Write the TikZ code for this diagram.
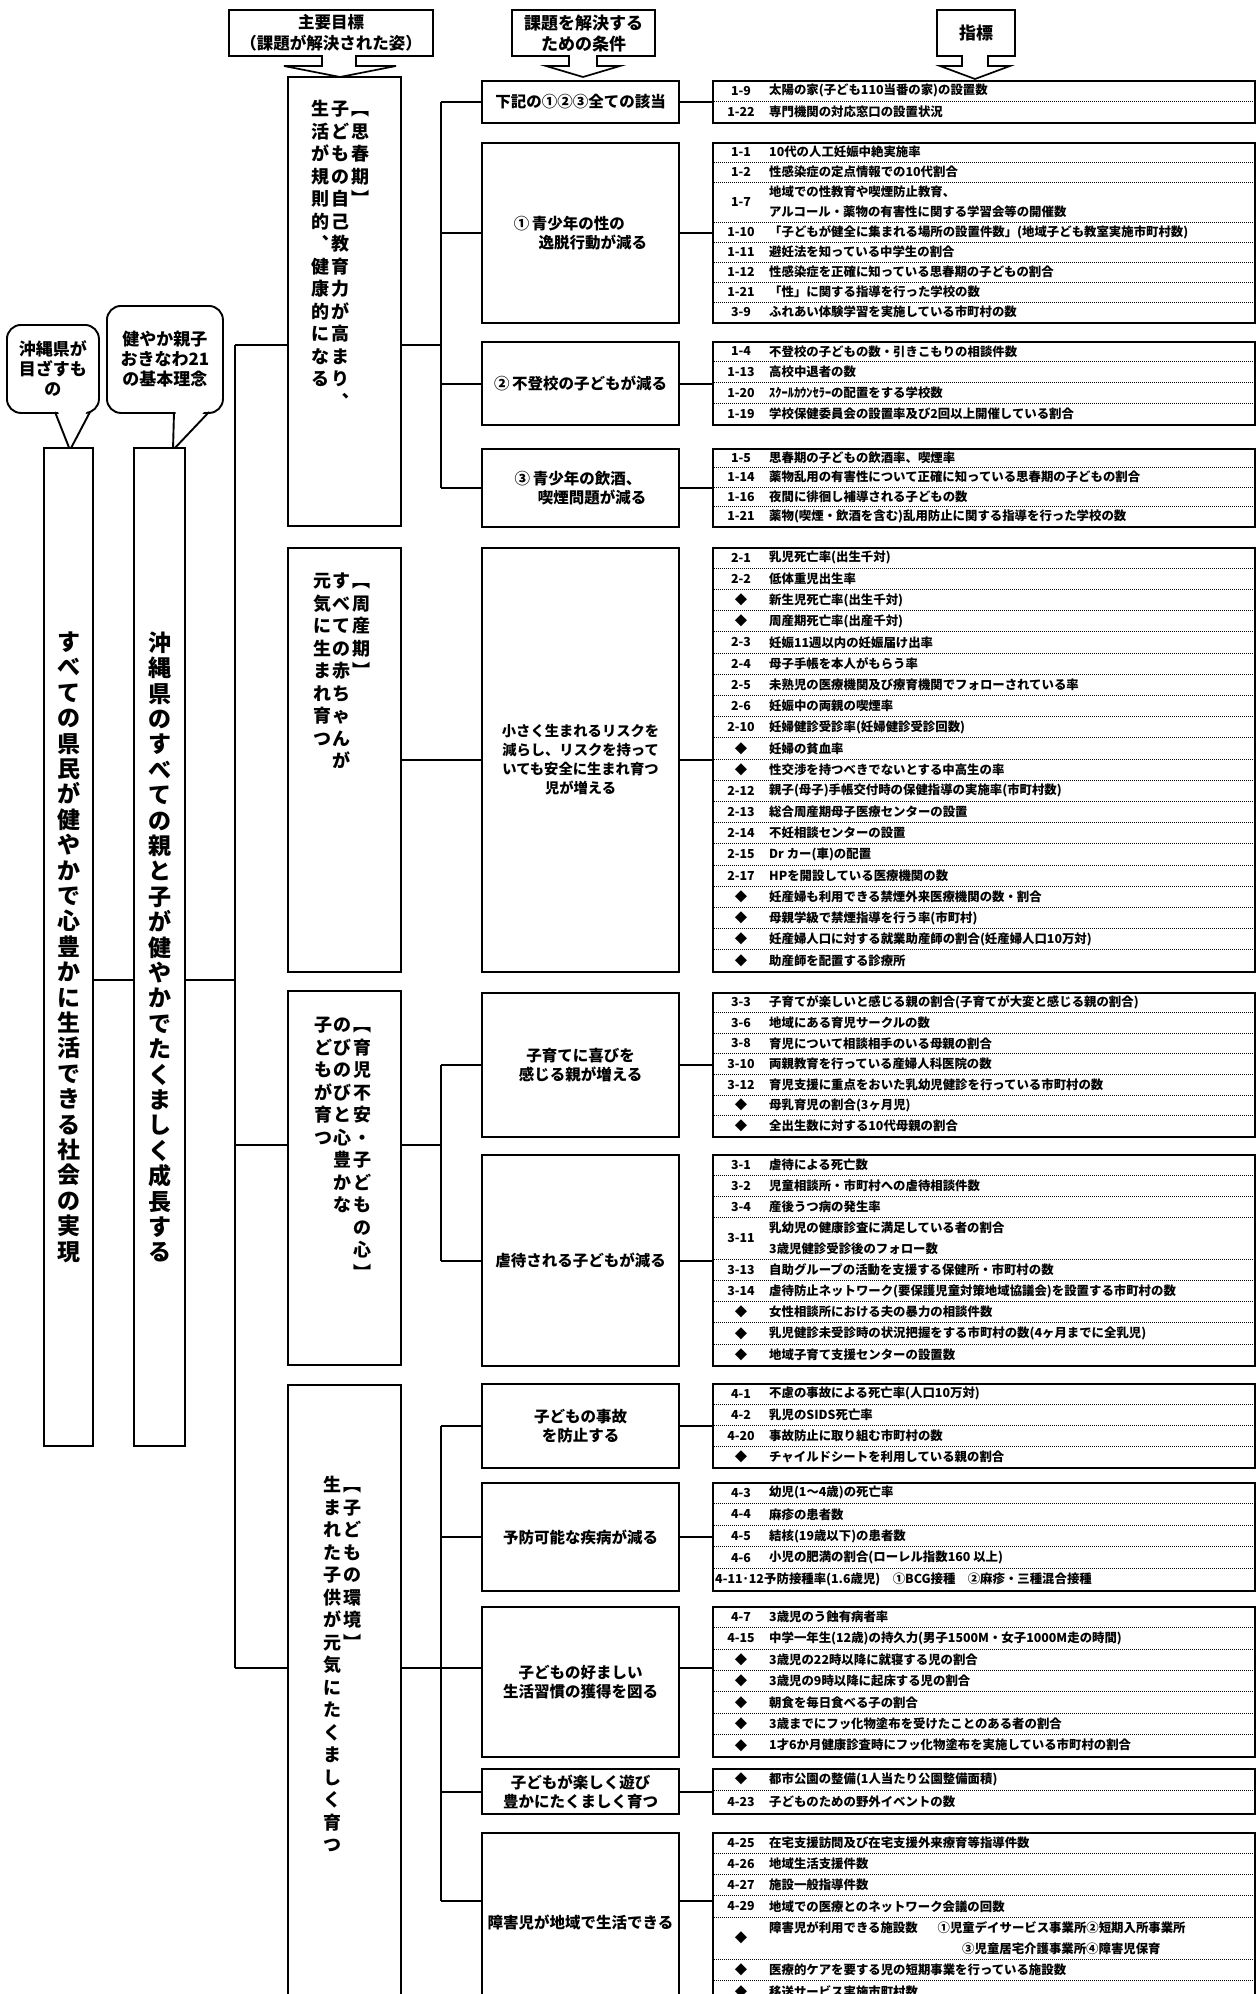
\documentclass[tikz,border=0pt]{standalone}
\usepackage{fontspec}
\setmainfont{Noto Sans CJK JP}
\newcommand\ibox[4]{%
  \pgfmathsetmacro\itop{#2}%
  \pgfmathsetmacro\ipitch{(#3-#2)/#4}%
  \pgfmathsetmacro\ihgt{#3-#2}%
  \node[ibx, minimum height=\ihgt pt] (#1) at (712,#2) {};}
\newcommand\rowpos[1]{\pgfmathsetmacro\rowy{\itop+(#1)*\ipitch}}
\newcommand\irow[4]{\rowpos{#2}\node[ilab] (#1l) at (741,\rowy) {#3};\node[itxt] (#1t) at (769,\rowy) {#4};}
\newcommand\ilb[3]{\rowpos{#2}\node[ilab] (#1) at (741,\rowy) {#3};}
\newcommand\itx[3]{\rowpos{#2}\node[itxt] (#1) at (769,\rowy) {#3};}
\newcommand\iseps[1]{\foreach \k in {#1}{\rowpos{\k}\draw[isep] (712,\rowy) -- (1254,\rowy);}}
\begin{document}
\begin{tikzpicture}[x=1pt,y=-1pt,
 bx/.style={draw, line width=2.1pt, fill=white, inner sep=0pt},
 mainbx/.style={bx, anchor=north west, minimum width=113pt},
 condbx/.style={bx, anchor=north west, minimum width=197pt, align=center, font=\fontsize{15.5}{19}\selectfont\bfseries},
 ibx/.style={bx, anchor=north west, minimum width=542pt},
 ilab/.style={inner sep=0pt, font=\fontsize{12.4}{14}\selectfont\bfseries},
 itxt/.style={inner sep=0pt, anchor=west, font=\fontsize{12.4}{14}\selectfont\bfseries},
 isep/.style={line width=0.7pt, dash pattern=on 0.9pt off 1.1pt},
 wire/.style={line width=1.9pt},
 vtx/.style={inner sep=0pt, anchor=north, align=center, font=\fontsize{18}{22.5}\selectfont\bfseries},
 bigv/.style={align=center, font=\fontsize{23}{25.4}\selectfont\bfseries},
 hdr/.style={bx, anchor=north west, minimum height=46pt, align=center, font=\fontsize{16.5}{21}\selectfont\bfseries},
 bubble/.style={draw, line width=1.9pt, rounded corners=14pt, fill=white, anchor=north west, align=center, inner sep=0pt, font=\fontsize{17}{20}\selectfont\bfseries},
 arr/.style={line width=1.7pt, fill=white}
]
\useasboundingbox (0,0) rectangle (1257,1994);
\clip (0,0) rectangle (1257,1994);
\fill[white] (0,0) rectangle (1257,1994);

% headers
\node[hdr, minimum width=204pt] (hA) at (228,9) {主要目標\\（課題が解決された姿）};
\node[hdr, minimum width=143pt, font=\fontsize{17}{21}\selectfont\bfseries] (hB) at (511,9) {課題を解決する\\ための条件};
\node[hdr, minimum width=78pt, font=\fontsize{17}{21}\selectfont\bfseries] (hC) at (936,9) {指標};
\filldraw[arr] (322,55) -- (322,66) -- (284,66) -- (340,77) -- (396,66) -- (356,66) -- (356,55);
\fill[white] (323.5,52.5) rectangle (354.5,57);
\filldraw[arr] (569,55) -- (569,66) -- (546,66) -- (583,77) -- (620,66) -- (597,66) -- (597,55);
\fill[white] (570.5,52.5) rectangle (595.5,57);
\filldraw[arr] (962,55) -- (962,66) -- (940,66) -- (975,79) -- (1010,66) -- (988,66) -- (988,55);
\fill[white] (963.5,52.5) rectangle (986.5,57);

% callouts
\node[bubble, minimum width=92pt, minimum height=88pt] (cb1) at (6,324) {沖縄県が\\目ざすも\\の};
\node[bubble, minimum width=116pt, minimum height=107pt] (cb2) at (106,305) {健やか親子\\おきなわ21\\の基本理念};
\fill[white] (57,408.5) -- (70,447) -- (88,408.5) -- cycle;
\draw[line width=1.9pt] (55,412) -- (70,450) -- (90,412);
\fill[white] (176,408.5) -- (173,447) -- (207,408.5) -- cycle;
\draw[line width=1.9pt] (174,412) -- (173,450) -- (209,412);

% left columns
\node[bx, bigv, minimum width=49pt, minimum height=998pt] (L1) at (68.5,947) {す\\べ\\て\\の\\県\\民\\が\\健\\や\\か\\で\\心\\豊\\か\\に\\生\\活\\で\\き\\る\\社\\会\\の\\実\\現};
\node[bx, bigv, minimum width=51pt, minimum height=998pt] (L2) at (159.5,947) {沖\\縄\\県\\の\\す\\べ\\て\\の\\親\\と\\子\\が\\健\\や\\か\\で\\た\\く\\ま\\し\\く\\成\\長\\す\\る};

% main goal boxes
\node[mainbx, minimum height=449pt] (M1) at (287,76) {};
\node[mainbx, minimum height=424pt] (M2) at (287,547) {};
\node[mainbx, minimum height=374pt] (M3) at (287,990) {};
\node[mainbx, minimum height=626pt] (M4) at (287,1384) {};
\node[vtx] (M1a) at (360,100) {\strut ︻\\思\\春\\期\\︼};
\node[vtx] (M1b) at (340,100) {\strut 子\\ど\\も\\の\\自\\己\\教\\育\\力\\が\\高\\ま\\り\\︑};
\node[vtx] (M1c) at (320,100) {\strut 生\\活\\が\\規\\則\\的\\︑\\健\\康\\的\\に\\な\\る};
\node[vtx] (M2a) at (361,572) {\strut ︻\\周\\産\\期\\︼};
\node[vtx] (M2b) at (341,572) {\strut す\\べ\\て\\の\\赤\\ち\\ゃ\\ん\\が};
\node[vtx] (M2c) at (322,572) {\strut 元\\気\\に\\生\\ま\\れ\\育\\つ};
\node[vtx] (M3a) at (362,1016) {\strut ︻\\育\\児\\不\\安\\・\\子\\ど\\も\\の\\心\\︼};
\node[vtx] (M3b) at (342,1016) {\strut の\\び\\の\\び\\と\\心\\豊\\か\\な};
\node[vtx] (M3c) at (323,1016) {\strut 子\\ど\\も\\が\\育\\つ};
\node[vtx] (M4a) at (352,1476) {\strut ︻\\子\\ど\\も\\の\\環\\境\\︼};
\node[vtx] (M4b) at (332,1476) {\strut 生\\ま\\れ\\た\\子\\供\\が\\元\\気\\に\\た\\く\\ま\\し\\く\\育\\つ};

% condition boxes
\node[condbx, minimum height=42pt] (c0) at (481,80) {下記の①②③全ての該当};
\node[condbx, minimum height=180pt, align=left] (c1) at (481,142) {①\,青少年の性の\\\hspace*{1.6em}逸脱行動が減る};
\node[condbx, minimum height=83pt] (c2) at (481,341) {②\,不登校の子どもが減る};
\node[condbx, minimum height=78pt, align=left] (c3) at (481,448) {③\,青少年の飲酒、\\\hspace*{1.5em}喫煙問題が減る};
\node[condbx, minimum height=424pt, font=\fontsize{14.3}{19}\selectfont\bfseries] (c4) at (481,547) {小さく生まれるリスクを\\減らし、リスクを持って\\いても安全に生まれ育つ\\児が増える};
\node[condbx, minimum height=144pt] (c5) at (481,992) {子育てに喜びを\\感じる親が増える};
\node[condbx, minimum height=211pt] (c6) at (481,1154) {虐待される子どもが減る};
\node[condbx, minimum height=84pt] (c7) at (481,1383) {子どもの事故\\を防止する};
\node[condbx, minimum height=108pt] (c8) at (481,1482) {予防可能な疾病が減る};
\node[condbx, minimum height=150pt] (c9) at (481,1606) {子どもの好ましい\\生活習慣の獲得を図る};
\node[condbx, minimum height=45pt] (c10) at (481,1768) {子どもが楽しく遊び\\豊かにたくましく育つ};
\node[condbx, minimum height=178pt] (c11) at (481,1832) {障害児が地域で生活できる};

% indicator boxes
\ibox{i0}{80}{122}{2}
\iseps{1}
\irow{r0a}{0.5}{1-9}{太陽の家(子ども110当番の家)の設置数}
\irow{r0b}{1.5}{1-22}{専門機関の対応窓口の設置状況}

\ibox{i1}{142}{322}{9}
\iseps{1,2,4,5,6,7,8}
\irow{r1a}{0.5}{1-1}{10代の人工妊娠中絶実施率}
\irow{r1b}{1.5}{1-2}{性感染症の定点情報での10代割合}
\ilb{r1cl}{3}{1-7}
\itx{r1ct}{2.5}{地域での性教育や喫煙防止教育、}
\itx{r1cu}{3.5}{アルコール・薬物の有害性に関する学習会等の開催数}
\irow{r1d}{4.5}{1-10}{「子どもが健全に集まれる場所の設置件数」(地域子ども教室実施市町村数)}
\irow{r1e}{5.5}{1-11}{避妊法を知っている中学生の割合}
\irow{r1f}{6.5}{1-12}{性感染症を正確に知っている思春期の子どもの割合}
\irow{r1g}{7.5}{1-21}{「性」に関する指導を行った学校の数}
\irow{r1h}{8.5}{3-9}{ふれあい体験学習を実施している市町村の数}

\ibox{i2}{341}{424}{4}
\iseps{1,2,3}
\irow{r2a}{0.5}{1-4}{不登校の子どもの数・引きこもりの相談件数}
\irow{r2b}{1.5}{1-13}{高校中退者の数}
\irow{r2c}{2.5}{1-20}{ｽｸｰﾙｶｳﾝｾﾗｰの配置をする学校数}
\irow{r2d}{3.5}{1-19}{学校保健委員会の設置率及び2回以上開催している割合}

\ibox{i3}{448}{526}{4}
\iseps{1,2,3}
\irow{r3a}{0.5}{1-5}{思春期の子どもの飲酒率、喫煙率}
\irow{r3b}{1.5}{1-14}{薬物乱用の有害性について正確に知っている思春期の子どもの割合}
\irow{r3c}{2.5}{1-16}{夜間に徘徊し補導される子どもの数}
\irow{r3d}{3.5}{1-21}{薬物(喫煙・飲酒を含む)乱用防止に関する指導を行った学校の数}

\ibox{i4}{547}{971}{20}
\iseps{1,...,19}
\irow{r4a}{0.5}{2-1}{乳児死亡率(出生千対)}
\irow{r4b}{1.5}{2-2}{低体重児出生率}
\irow{r4c}{2.5}{◆}{新生児死亡率(出生千対)}
\irow{r4d}{3.5}{◆}{周産期死亡率(出産千対)}
\irow{r4e}{4.5}{2-3}{妊娠11週以内の妊娠届け出率}
\irow{r4f}{5.5}{2-4}{母子手帳を本人がもらう率}
\irow{r4g}{6.5}{2-5}{未熟児の医療機関及び療育機関でフォローされている率}
\irow{r4h}{7.5}{2-6}{妊娠中の両親の喫煙率}
\irow{r4i}{8.5}{2-10}{妊婦健診受診率(妊婦健診受診回数)}
\irow{r4j}{9.5}{◆}{妊婦の貧血率}
\irow{r4k}{10.5}{◆}{性交渉を持つべきでないとする中高生の率}
\irow{r4l}{11.5}{2-12}{親子(母子)手帳交付時の保健指導の実施率(市町村数)}
\irow{r4m}{12.5}{2-13}{総合周産期母子医療センターの設置}
\irow{r4n}{13.5}{2-14}{不妊相談センターの設置}
\irow{r4o}{14.5}{2-15}{Dr カー(車)の配置}
\irow{r4p}{15.5}{2-17}{HPを開設している医療機関の数}
\irow{r4q}{16.5}{◆}{妊産婦も利用できる禁煙外来医療機関の数・割合}
\irow{r4r}{17.5}{◆}{母親学級で禁煙指導を行う率(市町村)}
\irow{r4s}{18.5}{◆}{妊産婦人口に対する就業助産師の割合(妊産婦人口10万対)}
\irow{r4t}{19.5}{◆}{助産師を配置する診療所}

\ibox{i5}{992}{1136}{7}
\iseps{1,...,6}
\irow{r5a}{0.5}{3-3}{子育てが楽しいと感じる親の割合(子育てが大変と感じる親の割合)}
\irow{r5b}{1.5}{3-6}{地域にある育児サークルの数}
\irow{r5c}{2.5}{3-8}{育児について相談相手のいる母親の割合}
\irow{r5d}{3.5}{3-10}{両親教育を行っている産婦人科医院の数}
\irow{r5e}{4.5}{3-12}{育児支援に重点をおいた乳幼児健診を行っている市町村の数}
\irow{r5f}{5.5}{◆}{母乳育児の割合(3ヶ月児)}
\irow{r5g}{6.5}{◆}{全出生数に対する10代母親の割合}

\ibox{i6}{1154}{1365}{10}
\iseps{1,2,3,5,6,7,8,9}
\irow{r6a}{0.5}{3-1}{虐待による死亡数}
\irow{r6b}{1.5}{3-2}{児童相談所・市町村への虐待相談件数}
\irow{r6c}{2.5}{3-4}{産後うつ病の発生率}
\ilb{r6dl}{4}{3-11}
\itx{r6dt}{3.5}{乳幼児の健康診査に満足している者の割合}
\itx{r6du}{4.5}{3歳児健診受診後のフォロー数}
\irow{r6e}{5.5}{3-13}{自助グループの活動を支援する保健所・市町村の数}
\irow{r6f}{6.5}{3-14}{虐待防止ネットワーク(要保護児童対策地域協議会)を設置する市町村の数}
\irow{r6g}{7.5}{◆}{女性相談所における夫の暴力の相談件数}
\irow{r6h}{8.5}{◆}{乳児健診未受診時の状況把握をする市町村の数(4ヶ月までに全乳児)}
\irow{r6i}{9.5}{◆}{地域子育て支援センターの設置数}

\ibox{i7}{1383}{1467}{4}
\iseps{1,2,3}
\irow{r7a}{0.5}{4-1}{不慮の事故による死亡率(人口10万対)}
\irow{r7b}{1.5}{4-2}{乳児のSIDS死亡率}
\irow{r7c}{2.5}{4-20}{事故防止に取り組む市町村の数}
\irow{r7d}{3.5}{◆}{チャイルドシートを利用している親の割合}

\ibox{i8}{1482}{1590}{5}
\iseps{1,2,3,4}
\irow{r8a}{0.5}{4-3}{幼児(1～4歳)の死亡率}
\irow{r8b}{1.5}{4-4}{麻疹の患者数}
\irow{r8c}{2.5}{4-5}{結核(19歳以下)の患者数}
\irow{r8d}{3.5}{4-6}{小児の肥満の割合(ローレル指数160 以上)}
\rowpos{4.5}
\node[ilab, anchor=west] (r8el) at (715,\rowy) {4-11･12};
\node[itxt] (r8et) at (764,\rowy) {予防接種率(1.6歳児)　①BCG接種　②麻疹・三種混合接種};

\ibox{i9}{1606}{1756}{7}
\iseps{1,...,6}
\irow{r9a}{0.5}{4-7}{3歳児のう蝕有病者率}
\irow{r9b}{1.5}{4-15}{中学一年生(12歳)の持久力(男子1500M・女子1000M走の時間)}
\irow{r9c}{2.5}{◆}{3歳児の22時以降に就寝する児の割合}
\irow{r9d}{3.5}{◆}{3歳児の9時以降に起床する児の割合}
\irow{r9e}{4.5}{◆}{朝食を毎日食べる子の割合}
\irow{r9f}{5.5}{◆}{3歳までにフッ化物塗布を受けたことのある者の割合}
\irow{r9g}{6.5}{◆}{1才6か月健康診査時にフッ化物塗布を実施している市町村の割合}

\ibox{i10}{1768}{1813}{2}
\iseps{1}
\irow{r10a}{0.5}{◆}{都市公園の整備(1人当たり公園整備面積)}
\irow{r10b}{1.5}{4-23}{子どものための野外イベントの数}

\ibox{i11}{1832}{2002}{8}
\iseps{1,2,3,4,6,7}
\irow{r11a}{0.5}{4-25}{在宅支援訪問及び在宅支援外来療育等指導件数}
\irow{r11b}{1.5}{4-26}{地域生活支援件数}
\irow{r11c}{2.5}{4-27}{施設一般指導件数}
\irow{r11d}{3.5}{4-29}{地域での医療とのネットワーク会議の回数}
\ilb{r11el}{5}{◆}
\itx{r11et}{4.5}{障害児が利用できる施設数\hspace{1.6em}①児童デイサービス事業所②短期入所事業所}
\rowpos{5.5}
\node[itxt] (r11eu) at (962,\rowy) {③児童居宅介護事業所④障害児保育};
\irow{r11f}{6.5}{◆}{医療的ケアを要する児の短期事業を行っている施設数}
\irow{r11g}{7.5}{◆}{移送サービス実施市町村数}

% connectors: left trunk
\coordinate (tA) at (235,345);
\coordinate (tB) at (235,980);
\coordinate (tC) at (235,1145);
\coordinate (tD) at (235,1668);
\draw[wire] (tA) -- (tD);
\draw[wire] (L1.east |- tB) -- (L2.west |- tB);
\draw[wire] (L2.east |- tB) -- (tB);
\draw[wire] (tA) -- (M1.west |- tA);
\draw[wire] (tC) -- (M3.west |- tC);
\draw[wire] (tD) -- (M4.west |- tD);

% group 1
\coordinate (b1) at (441,345);
\draw[wire] (M1.east |- b1) -- (b1);
\draw[wire] (b1 |- c0.west) -- (b1 |- c3.west);
\foreach \c/\i in {c0/i0,c1/i1,c2/i2,c3/i3}{
  \draw[wire] (b1 |- \c.west) -- (\c.west);
  \draw[wire] (\c.east) -- (\c.east -| \i.west);}
% group 2
\draw[wire] (M2.east |- c4.west) -- (c4.west);
\draw[wire] (c4.east) -- (c4.east -| i4.west);
% group 3
\coordinate (b3) at (441,1145);
\draw[wire] (M3.east |- b3) -- (b3);
\draw[wire] (b3 |- c5.west) -- (b3 |- c6.west);
\foreach \c/\i in {c5/i5,c6/i6}{
  \draw[wire] (b3 |- \c.west) -- (\c.west);
  \draw[wire] (\c.east) -- (\c.east -| \i.west);}
% group 4
\coordinate (b4) at (441,1668);
\coordinate (k11) at (441,1901);
\draw[wire] (M4.east |- b4) -- (b4) -- (c9.west |- b4);
\draw[wire] (c9.east |- b4) -- (i9.west |- b4);
\draw[wire] (b4 |- c7.west) -- (k11);
\foreach \c/\i in {c7/i7,c8/i8,c10/i10}{
  \draw[wire] (b4 |- \c.west) -- (\c.west);
  \draw[wire] (\c.east) -- (\c.east -| \i.west);}
\draw[wire] (k11) -- (c11.west |- k11);
\draw[wire] (c11.east |- k11) -- (i11.west |- k11);
\end{tikzpicture}
\end{document}
